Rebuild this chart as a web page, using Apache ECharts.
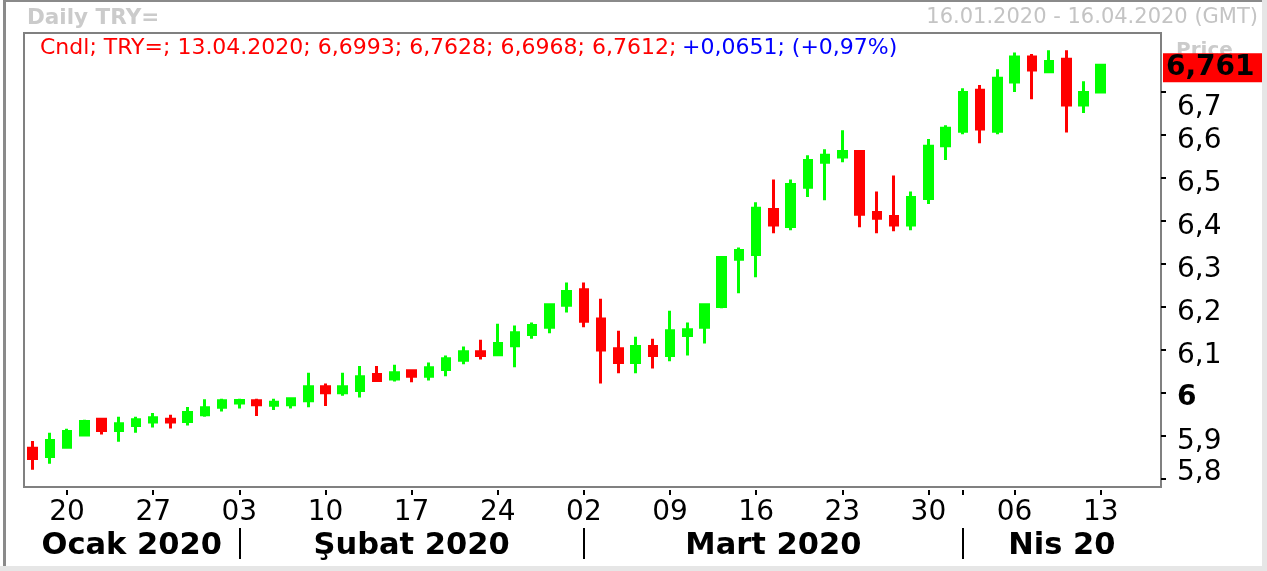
<!DOCTYPE html>
<html>
<head>
<meta charset="utf-8">
<script src="https://cdn.jsdelivr.net/npm/echarts@6/dist/echarts.min.js"></script>
<style>
html, body { margin: 0; padding: 0; background: #fff; }
#main { width: 1267px; height: 571px; }
</style>
</head>
<body>
<div id="main"></div>
<script>
// trading days 16.01.2020 - 16.04.2020
const dates = [
    "16.01.2020", "17.01.2020", "20.01.2020", "21.01.2020", "22.01.2020", "23.01.2020", "24.01.2020",
    "27.01.2020", "28.01.2020", "29.01.2020", "30.01.2020", "31.01.2020",
    "03.02.2020", "04.02.2020", "05.02.2020", "06.02.2020", "07.02.2020",
    "10.02.2020", "11.02.2020", "12.02.2020", "13.02.2020", "14.02.2020",
    "17.02.2020", "18.02.2020", "19.02.2020", "20.02.2020", "21.02.2020",
    "24.02.2020", "25.02.2020", "26.02.2020", "27.02.2020", "28.02.2020",
    "02.03.2020", "03.03.2020", "04.03.2020", "05.03.2020", "06.03.2020",
    "09.03.2020", "10.03.2020", "11.03.2020", "12.03.2020", "13.03.2020",
    "16.03.2020", "17.03.2020", "18.03.2020", "19.03.2020", "20.03.2020",
    "23.03.2020", "24.03.2020", "25.03.2020", "26.03.2020", "27.03.2020",
    "30.03.2020", "31.03.2020",
    "01.04.2020", "02.04.2020", "03.04.2020",
    "06.04.2020", "07.04.2020", "08.04.2020", "09.04.2020", "10.04.2020",
    "13.04.2020", "14.04.2020", "15.04.2020", "16.04.2020",
];

// [open, close, low, high]
const candles = [
    [5.872, 5.848, 5.822, 5.889], [5.853, 5.890, 5.836, 5.908], [5.874, 5.911, 5.873, 5.917],
    [5.903, 5.934, 5.901, 5.938], [5.939, 5.913, 5.904, 5.940], [5.913, 5.929, 5.887, 5.945],
    [5.925, 5.938, 5.908, 5.945], [5.933, 5.943, 5.920, 5.954], [5.939, 5.933, 5.918, 5.950],
    [5.934, 5.955, 5.925, 5.968], [5.950, 5.966, 5.945, 5.986], [5.967, 5.982, 5.957, 5.987],
    [5.977, 5.983, 5.964, 5.987], [5.982, 5.973, 5.947, 5.987], [5.972, 5.979, 5.961, 5.987],
    [5.973, 5.987, 5.964, 5.988], [5.982, 6.015, 5.967, 6.047], [6.015, 6.001, 5.970, 6.022],
    [6.001, 6.015, 5.994, 6.047], [6.006, 6.038, 5.990, 6.063], [6.043, 6.029, 6.027, 6.063],
    [6.033, 6.047, 6.027, 6.066], [6.052, 6.039, 6.025, 6.054], [6.039, 6.059, 6.029, 6.071],
    [6.055, 6.080, 6.039, 6.087], [6.076, 6.096, 6.067, 6.108], [6.096, 6.087, 6.078, 6.124],
    [6.089, 6.115, 6.087, 6.161], [6.110, 6.140, 6.060, 6.157], [6.136, 6.157, 6.126, 6.164],
    [6.153, 6.205, 6.139, 6.208], [6.204, 6.236, 6.187, 6.257], [6.240, 6.167, 6.153, 6.257],
    [6.172, 6.100, 6.022, 6.219], [6.103, 6.071, 6.046, 6.145], [6.071, 6.108, 6.046, 6.131],
    [6.108, 6.087, 6.057, 6.126], [6.087, 6.145, 6.074, 6.191], [6.134, 6.147, 6.087, 6.164],
    [6.153, 6.205, 6.115, 6.208], [6.201, 6.315, 6.197, 6.318], [6.311, 6.331, 6.232, 6.338],
    [6.322, 6.429, 6.269, 6.443], [6.426, 6.390, 6.371, 6.496], [6.387, 6.484, 6.378, 6.496],
    [6.478, 6.540, 6.455, 6.552], [6.536, 6.552, 6.448, 6.566], [6.548, 6.561, 6.536, 6.610],
    [6.561, 6.415, 6.385, 6.564], [6.419, 6.406, 6.371, 6.468], [6.410, 6.390, 6.376, 6.505],
    [6.390, 6.454, 6.378, 6.468], [6.452, 6.573, 6.439, 6.590], [6.574, 6.615, 6.541, 6.622],
    [6.608, 6.698, 6.601, 6.708], [6.703, 6.613, 6.580, 6.715], [6.608, 6.731, 6.601, 6.752],
    [6.722, 6.780, 6.699, 6.791], [6.780, 6.750, 6.682, 6.787], [6.746, 6.770, 6.743, 6.796],
    [6.775, 6.669, 6.605, 6.796], [6.669, 6.698, 6.650, 6.724], [6.6993, 6.7612, 6.6968, 6.7628],
];

const yTicks = [5.8, 5.9, 6, 6.1, 6.2, 6.3, 6.4, 6.5, 6.6, 6.7];
const monthNames = ["Ocak 2020", "Şubat 2020", "Mart 2020", "Nis 20"];
const changeText = "+0,0651; (+0,97%)";

const FONT = "DejaVu Sans";
const comma = (v, d) => v.toFixed(d).replace(".", ",");

// which categories get a day label (mondays) and where months start
const labelIdx = new Set();
const monthStarts = [];
dates.forEach((s, i) => {
    const [d, m, y] = s.split(".").map(Number);
    if (new Date(y, m - 1, d).getDay() === 1) labelIdx.add(i);
    if (i > 0 && s.slice(3, 5) !== dates[i - 1].slice(3, 5)) monthStarts.push(i);
});
const tickIdx = new Set([...labelIdx, ...monthStarts]);
const edges = [-0.5, ...monthStarts, dates.length - 0.5];
const monthCenters = monthNames.map((_, k) => (edges[k] + edges[k + 1]) / 2);

const last = candles[candles.length - 1];
const lastDate = dates[candles.length - 1];
const legendRed = `Cndl; TRY=; ${lastDate}; ${comma(last[0], 4)}; ${comma(last[3], 4)}; ${comma(last[2], 4)}; ${comma(last[1], 4)};`;

const chart = echarts.init(document.getElementById("main"));

const option = {
    backgroundColor: "#fff",
    animation: false,
    textStyle: { fontFamily: FONT },
    title: [
        {
            text: "Daily TRY=", left: 27, top: 7, padding: 0,
            textStyle: { fontFamily: FONT, fontSize: 21.5, fontWeight: "bold", color: "#cbcbcb" },
        },
        {
            text: "16.01.2020 - 16.04.2020 (GMT)", right: 9, top: 7, padding: 0,
            textStyle: { fontFamily: FONT, fontSize: 21, fontWeight: "normal", color: "#c4c4c4" },
        },
        {
            text: `{r|${legendRed}} {b|${changeText}}`, left: 40, top: 37, padding: 0, z: 10,
            textStyle: {
                fontWeight: "normal",
                rich: {
                    r: { fontFamily: FONT, fontSize: 22, fontWeight: "normal", color: "#ff0000" },
                    b: { fontFamily: FONT, fontSize: 22, fontWeight: "normal", color: "#0000ff" },
                },
            },
        },
    ],
    graphic: [
        { type: "rect", shape: { x: 3, y: 0, width: 3, height: 566 }, style: { fill: "#8a8a8a" } },
        { type: "rect", shape: { x: 3, y: 0, width: 1259, height: 2 }, style: { fill: "#8a8a8a" } },
        { type: "rect", shape: { x: 1262, y: 0, width: 5, height: 571 }, style: { fill: "#e6e6e6" } },
        { type: "rect", shape: { x: 0, y: 566, width: 1267, height: 5 }, style: { fill: "#e6e6e6" } },
        {
            type: "text", left: 1176, top: 41, z: 0,
            style: { text: "Price", fontFamily: FONT, fontSize: 20, fontWeight: "bold", fill: "#cbcbcb" },
        },
    ],
    grid: {
        left: 24, right: 106, top: 33, bottom: 84,
        show: true, borderColor: "#808080", borderWidth: 2, backgroundColor: "#fff",
    },
    xAxis: [
        {
            type: "category",
            data: dates,
            boundaryGap: true,
            offset: 3,
            axisLine: { show: false, onZero: false },
            axisTick: {
                show: true, alignWithLabel: true, length: 5,
                interval: (i) => tickIdx.has(i),
                lineStyle: { color: "#000", width: 2 },
            },
            axisLabel: {
                interval: (i) => labelIdx.has(i),
                formatter: (v) => v.slice(0, 2),
                margin: 9, fontFamily: FONT, fontSize: 28, color: "#000",
            },
            splitLine: { show: false },
        },
        {
            type: "value",
            min: -0.5,
            max: dates.length - 0.5,
            position: "bottom",
            offset: 41,
            axisLine: { show: false, onZero: false },
            splitLine: { show: false },
            axisTick: {
                show: true, customValues: monthStarts, length: 31,
                lineStyle: { color: "#000", width: 2 },
            },
            axisLabel: {
                customValues: monthCenters,
                formatter: (v) => monthNames[monthCenters.indexOf(v)] || "",
                margin: 3, fontFamily: FONT, fontSize: 30.5, fontWeight: "bold", color: "#000",
            },
        },
    ],
    yAxis: {
        type: "value",
        position: "right",
        min: 5.782,
        max: 6.836,
        axisLine: { show: false, onZero: false },
        splitLine: { show: false },
        axisTick: {
            show: true, customValues: yTicks, length: 5,
            lineStyle: { color: "#000", width: 2 },
        },
        axisLabel: {
            customValues: yTicks,
            margin: 16,
            color: "#000",
            fontFamily: FONT,
            fontSize: 28,
            formatter: (v) => {
                if (Math.abs(v - 6) < 1e-9) return "{b|6}";
                if (Math.abs(v - 6.7) < 1e-9) return "{dn|6,7}";
                if (Math.abs(v - 5.8) < 1e-9) return "{up|5,8}";
                return "{n|" + comma(v, 1) + "}";
            },
            rich: {
                n: { fontFamily: FONT, fontSize: 28, color: "#000", padding: [12, 0, 0, 0] },
                b: { fontFamily: FONT, fontSize: 28, fontWeight: "bold", color: "#000", padding: [10, 0, 0, 0] },
                dn: { fontFamily: FONT, fontSize: 28, color: "#000", padding: [32, 0, 0, 0] },
                up: { fontFamily: FONT, fontSize: 28, color: "#000", padding: [0, 0, 14, 0] },
            },
        },
    },
    series: [
        {
            type: "candlestick",
            xAxisIndex: 0,
            data: candles,
            barWidth: 8,
            itemStyle: {
                color: "#00ff00",
                color0: "#ff0000",
                borderColor: "#00ff00",
                borderColor0: "#ff0000",
                borderWidth: 3,
            },
            markLine: {
                silent: true,
                symbol: "none",
                animation: false,
                lineStyle: { color: "transparent", width: 0 },
                data: [{ yAxis: last[1] }],
                label: {
                    show: true,
                    position: "end",
                    distance: 2,
                    offset: [0, 2],
                    formatter: () => comma(last[1], 3),
                    backgroundColor: "#ff0000",
                    color: "#000",
                    fontFamily: FONT,
                    fontSize: 28,
                    fontWeight: "bold",
                    padding: [1, 4, 0, 3],
                    width: 92,
                },
                z: 20,
            },
        },
    ],
};

chart.setOption(option);
</script>
</body>
</html>
